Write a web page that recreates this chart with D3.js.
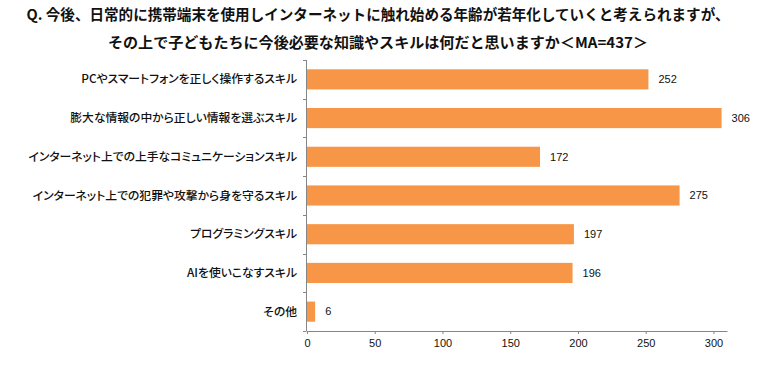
<!DOCTYPE html>
<html>
<head>
<meta charset="utf-8">
<script src="https://cdn.jsdelivr.net/npm/d3@7"></script>
<style>
  html, body { margin: 0; padding: 0; background: #ffffff; }
  svg { display: block; }
  .cat { font-feature-settings: "palt" 1; }
</style>
</head>
<body>
<svg id="chart" width="776" height="367"></svg>
<script>
const titleLines = [
  "Q. 今後、日常的に携帯端末を使用しインターネットに触れ始める年齢が若年化していくと考えられますが、",
  "その上で子どもたちに今後必要な知識やスキルは何だと思いますか＜MA=437＞"
];
const categories = [
  "PCやスマートフォンを正しく操作するスキル",
  "膨大な情報の中から正しい情報を選ぶスキル",
  "インターネット上での上手なコミュニケーションスキル",
  "インターネット上での犯罪や攻撃から身を守るスキル",
  "プログラミングスキル",
  "AIを使いこなすスキル",
  "その他"
];
const values = [252, 306, 172, 275, 197, 196, 6];
const xTicks = [0, 50, 100, 150, 200, 250, 300];
const xMax = 310;

const svg = d3.select("#chart");
const W = 776, H = 367;
const margin = { left: 307, right: 49, top: 60, bottom: 36 };
const plotW = W - margin.left - margin.right;
const plotH = H - margin.top - margin.bottom;

const jp = "'Noto Sans CJK JP', 'Noto Sans', sans-serif";
const num = "'Liberation Sans', Arial, sans-serif";

// Title
const titleWidths = [703, 540];
titleLines.forEach((t, i) => {
  svg.append("text")
    .attr("x", 378)
    .attr("y", 20 + i * 28)
    .attr("text-anchor", "middle")
    .attr("font-family", jp)
    .attr("font-weight", "bold")
    .attr("font-size", 14.5)
    .attr("fill", "#111")
    .attr("textLength", titleWidths[i])
    .attr("lengthAdjust", "spacingAndGlyphs")
    .text(t);
});

const g = svg.append("g").attr("transform", `translate(${margin.left},${margin.top})`);

const x = d3.scaleLinear().domain([0, xMax]).range([0, plotW]);
const y = d3.scaleBand().domain(categories).range([0, plotH])
  .paddingInner(0.48).paddingOuter(0.24);

// Bars
g.selectAll("rect.bar").data(categories).join("rect")
  .attr("class", "bar")
  .attr("x", x(0))
  .attr("y", d => y(d))
  .attr("width", (d, i) => x(values[i]) - x(0))
  .attr("height", y.bandwidth())
  .attr("fill", "#F79646");

// Value labels
g.selectAll("text.val").data(categories).join("text")
  .attr("class", "val")
  .attr("x", (d, i) => x(values[i]) + 10)
  .attr("y", d => y(d) + y.bandwidth() / 2)
  .attr("dy", "0.35em")
  .attr("font-family", num)
  .attr("font-size", 11)
  .attr("fill", "#111")
  .text((d, i) => values[i]);

// Category labels
g.selectAll("text.cat").data(categories).join("text")
  .attr("class", "cat")
  .attr("x", -10)
  .attr("y", d => y(d) + y.bandwidth() / 2)
  .attr("dy", "0.35em")
  .attr("text-anchor", "end")
  .attr("font-family", jp)
  .attr("font-weight", 500)
  .attr("font-size", 11.8)
  .attr("fill", "#111")
  .text(d => d);

// Y axis line + boundary ticks
const axisColor = "#868686";
g.append("line")
  .attr("x1", -0.5).attr("x2", -0.5)
  .attr("y1", 0).attr("y2", plotH)
  .attr("stroke", axisColor);
const bounds = categories.map(c => y(c) - y.step() * y.paddingInner() / 2).concat([plotH]);
g.selectAll("line.ytick").data(bounds).join("line")
  .attr("class", "ytick")
  .attr("x1", -4).attr("x2", -0.5)
  .attr("y1", d => Math.round(d) + 0.5).attr("y2", d => Math.round(d) + 0.5)
  .attr("stroke", axisColor);

// X axis
const xAxis = d3.axisBottom(x).tickValues(xTicks).tickSizeInner(3).tickSizeOuter(0).tickPadding(5);
const xg = g.append("g").attr("transform", `translate(0,${plotH})`).call(xAxis);
xg.select(".domain").attr("stroke", axisColor);
xg.selectAll(".tick line").attr("stroke", axisColor);
xg.selectAll(".tick text")
  .attr("font-family", num)
  .attr("font-size", 11)
  .attr("fill", "#111");
</script>
</body>
</html>
